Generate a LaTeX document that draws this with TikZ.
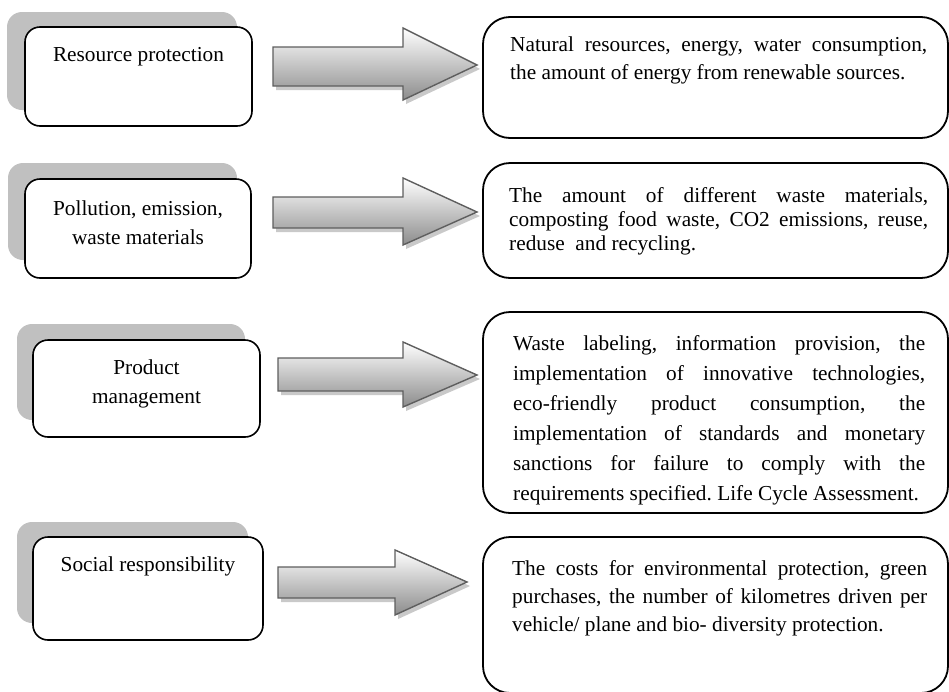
\documentclass[tikz,border=0pt]{standalone}
\usepackage{fontspec}
\setmainfont{Liberation Serif}
\usetikzlibrary{shadows}

\definecolor{shadegray}{HTML}{C0C0C0}
\definecolor{arrowedge}{HTML}{5E5E5E}

% natural, stretchable interword spaces and no extra space after periods
\newcommand\plainspaces{\spaceskip=0pt\relax\xspaceskip=0pt\relax\frenchspacing}
% one fully justified line inside a fixed-width node
\newcommand\jline[1]{\noindent\hbox to\hsize{#1}\par}

% block arrow: x start, x head base, x tip, body top, body bottom, head top, head bottom, tip y
\newcommand\flowarrow[8]{%
  \path[blockarrow] (#1,#4) -- (#2,#4) -- (#2,#6) -- (#3,#8) -- (#2,#7)
    -- (#2,#5) -- (#1,#5) -- cycle;}

\tikzset{
  backplate/.style={rectangle, fill=shadegray, rounded corners=15pt, inner sep=0pt},
  leftbox/.style={rectangle, draw, fill=white, line width=1.6pt, rounded corners=15pt, inner sep=0pt},
  rightbox/.style={rectangle, draw, fill=white, line width=1.8pt, rounded corners=27pt, inner sep=0pt},
  lefttext/.style={anchor=base, align=center, inner sep=0pt, font=\fontsize{21.3}{28.5}\selectfont},
  righttext/.style={anchor=base west, inner sep=0pt, align=justify,
    font=\fontsize{21.3}{#1}\selectfont},
  blockarrow/.style={draw=arrowedge, line width=1.4pt, top color=white, bottom color=black!45,
    drop shadow={shadow xshift=3pt, shadow yshift=-4pt, opacity=0.3, fill=black!70}},
}

\begin{document}
\begin{tikzpicture}[x=1pt, y=-1pt]
\useasboundingbox (0,0) rectangle (949,691);
\clip (0,0) rectangle (949,691);

% ---- left column: grey back plates and category boxes
\node[backplate, minimum width=230pt, minimum height=98pt] (sh1) at (122,61) {};
\node[leftbox, minimum width=227pt, minimum height=99pt] (lb1) at (138.5,76.5) {};
\node[lefttext] (ta) at (138.5,61) {Resource protection};

\node[backplate, minimum width=229pt, minimum height=97pt] (sh2) at (122.5,211.5) {};
\node[leftbox, minimum width=226pt, minimum height=99pt] (lb2) at (138,228.5) {};
\node[lefttext] (tb) at (138,244) {Pollution, emission,\\ waste materials};

\node[backplate, minimum width=228pt, minimum height=96pt] (sh3) at (131,372) {};
\node[leftbox, minimum width=227pt, minimum height=97pt] (lb3) at (146.5,388.5) {};
\node[lefttext] (tc) at (146.5,403) {Product\\ management};

\node[backplate, minimum width=231pt, minimum height=101pt] (sh4) at (132.5,572.5) {};
\node[leftbox, minimum width=230pt, minimum height=103pt] (lb4) at (148,588.5) {};
\node[lefttext] (td) at (148,571) {Social responsibility};

% ---- block arrows
\flowarrow{273}{403}{477}{47}{86}{28}{100}{65}
\flowarrow{273}{403}{477}{197}{228}{178}{245}{212}
\flowarrow{278}{403}{477}{358}{391}{342}{407}{375}
\flowarrow{278}{395}{467}{567}{598}{550}{615}{582}

% ---- right column: indicator boxes
\node[rightbox, minimum width=465pt, minimum height=121pt] (rb1) at (715.5,77.5) {};
\node[righttext=28, text width=417pt] (ra) at (510,51) {\plainspaces
  \jline{Natural resources, energy, water consumption,}
  \noindent the amount of energy from renewable sources.};

\node[rightbox, minimum width=465pt, minimum height=115pt] (rb2) at (715.5,220.5) {};
\node[righttext=24, text width=419pt] (rbt) at (509,202) {\plainspaces
  \jline{The amount of different waste materials,}
  \jline{composting food waste, CO2 emissions, reuse,}
  \noindent reduse\ \ and recycling.};

\node[rightbox, minimum width=465pt, minimum height=201pt] (rb3) at (715.5,412.5) {};
\node[righttext=30, text width=412pt] (rc) at (513,350) {\plainspaces
  \jline{Waste labeling, information provision, the}
  \jline{implementation of innovative technologies,}
  \jline{eco-friendly product consumption, the}
  \jline{implementation of standards and monetary}
  \jline{sanctions for failure to comply with the}
  \noindent requirements specified. Life Cycle Assessment.};

\node[rightbox, minimum width=465pt, minimum height=156pt] (rb4) at (715.5,615) {};
\node[righttext=28, text width=415pt] (rd) at (512,575) {\plainspaces
  \jline{The costs for environmental protection, green}
  \jline{purchases, the number of kilometres driven per}
  \noindent vehicle/ plane and bio- diversity protection.};
\end{tikzpicture}
\end{document}
